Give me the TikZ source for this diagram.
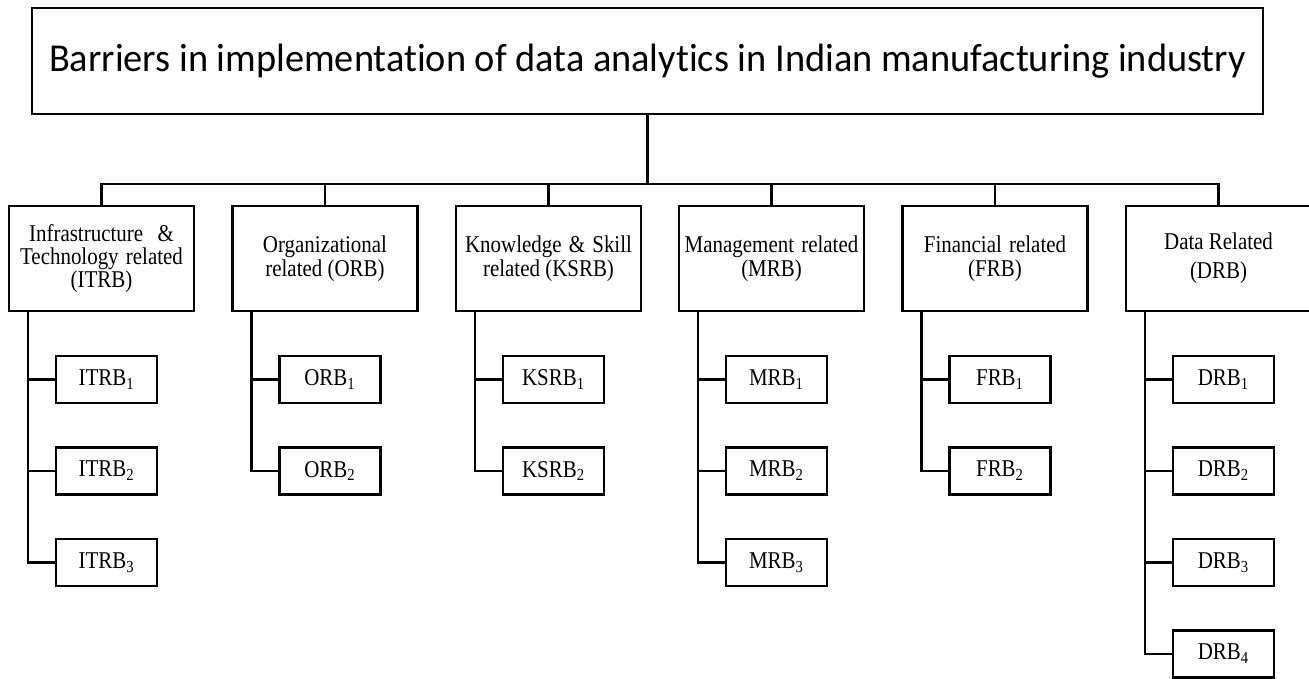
\documentclass[tikz,border=0pt]{standalone}
\usepackage{fontspec}
\setmainfont{Liberation Serif}[FakeStretch=0.87]
\newfontfamily\titlefont{Carlito}[RawFeature=-liga, FakeStretch=0.97]
\newcommand{\gap}{\hspace{0.3em}}

\begin{document}
\begin{tikzpicture}[x=1cm, y=1cm, font=\fontsize{13.7}{13.6}\selectfont,
  box/.style={draw, line width=1.3pt, align=center, inner sep=2pt},
  cat/.style={box, minimum width=3.7cm, minimum height=2.1cm},
  sub/.style={box, minimum width=2.02cm, minimum height=0.94cm},
  edge/.style={line width=1.3pt}]
  \useasboundingbox (0,0) rectangle (26.18,-13.56);
  % root
  \node[box, line width=1.5pt, minimum width=24.62cm, minimum height=2.12cm,
    font=\titlefont\fontsize{22.5}{24}\selectfont]
    (title) at (12.95,-1.22) {Barriers in implementation of data analytics in Indian manufacturing industry};
  \coordinate (bus) at (12.95,-3.68);
  % barrier groups
  \node[cat, font=\fontsize{13.7}{13.2}\selectfont] (itrb) at (2.03,-5.17)
    {Infrastructure\gap\gap\&\\ Technology\gap related\\ (ITRB)};
  \node[cat] (orb) at (6.50,-5.17) {Organizational\\ related (ORB)};
  \node[cat] (ksrb) at (10.97,-5.17) {Knowledge\gap\&\gap Skill\\ related (KSRB)};
  \node[cat] (mrb) at (15.43,-5.17) {Management\gap related\\ (MRB)};
  \node[cat] (frb) at (19.90,-5.17) {Financial\gap related\\ (FRB)};
  \node[cat] (drb) at (24.37,-5.17) {Data Related\\[3pt] (DRB)};
  % barriers
  \node[sub] (itrb1) at (2.13,-7.59) {ITRB\textsubscript{1}};
  \node[sub] (itrb2) at (2.13,-9.42) {ITRB\textsubscript{2}};
  \node[sub] (itrb3) at (2.13,-11.25) {ITRB\textsubscript{3}};
  \node[sub] (orb1) at (6.60,-7.59) {ORB\textsubscript{1}};
  \node[sub] (orb2) at (6.60,-9.42) {ORB\textsubscript{2}};
  \node[sub] (ksrb1) at (11.07,-7.59) {KSRB\textsubscript{1}};
  \node[sub] (ksrb2) at (11.07,-9.42) {KSRB\textsubscript{2}};
  \node[sub] (mrb1) at (15.53,-7.59) {MRB\textsubscript{1}};
  \node[sub] (mrb2) at (15.53,-9.42) {MRB\textsubscript{2}};
  \node[sub] (mrb3) at (15.53,-11.25) {MRB\textsubscript{3}};
  \node[sub] (frb1) at (20.00,-7.59) {FRB\textsubscript{1}};
  \node[sub] (frb2) at (20.00,-9.42) {FRB\textsubscript{2}};
  \node[sub] (drb1) at (24.47,-7.59) {DRB\textsubscript{1}};
  \node[sub] (drb2) at (24.47,-9.42) {DRB\textsubscript{2}};
  \node[sub] (drb3) at (24.47,-11.25) {DRB\textsubscript{3}};
  \node[sub] (drb4) at (24.47,-13.08) {DRB\textsubscript{4}};
  % root to groups
  \draw[edge] (title) -- (bus);
  \draw[edge] (bus) -| (itrb.north);
  \draw[edge] (bus) -| (orb.north);
  \draw[edge] (bus) -| (ksrb.north);
  \draw[edge] (bus) -| (mrb.north);
  \draw[edge] (bus) -| (frb.north);
  \draw[edge] (bus) -| (drb.north);
  % groups to barriers
  \draw[edge] ([xshift=0.4cm]itrb.south west) |- (itrb1.west);
  \draw[edge] ([xshift=0.4cm]itrb.south west) |- (itrb2.west);
  \draw[edge] ([xshift=0.4cm]itrb.south west) |- (itrb3.west);
  \draw[edge] ([xshift=0.4cm]orb.south west) |- (orb1.west);
  \draw[edge] ([xshift=0.4cm]orb.south west) |- (orb2.west);
  \draw[edge] ([xshift=0.4cm]ksrb.south west) |- (ksrb1.west);
  \draw[edge] ([xshift=0.4cm]ksrb.south west) |- (ksrb2.west);
  \draw[edge] ([xshift=0.4cm]mrb.south west) |- (mrb1.west);
  \draw[edge] ([xshift=0.4cm]mrb.south west) |- (mrb2.west);
  \draw[edge] ([xshift=0.4cm]mrb.south west) |- (mrb3.west);
  \draw[edge] ([xshift=0.4cm]frb.south west) |- (frb1.west);
  \draw[edge] ([xshift=0.4cm]frb.south west) |- (frb2.west);
  \draw[edge] ([xshift=0.4cm]drb.south west) |- (drb1.west);
  \draw[edge] ([xshift=0.4cm]drb.south west) |- (drb2.west);
  \draw[edge] ([xshift=0.4cm]drb.south west) |- (drb3.west);
  \draw[edge] ([xshift=0.4cm]drb.south west) |- (drb4.west);
\end{tikzpicture}
\end{document}
